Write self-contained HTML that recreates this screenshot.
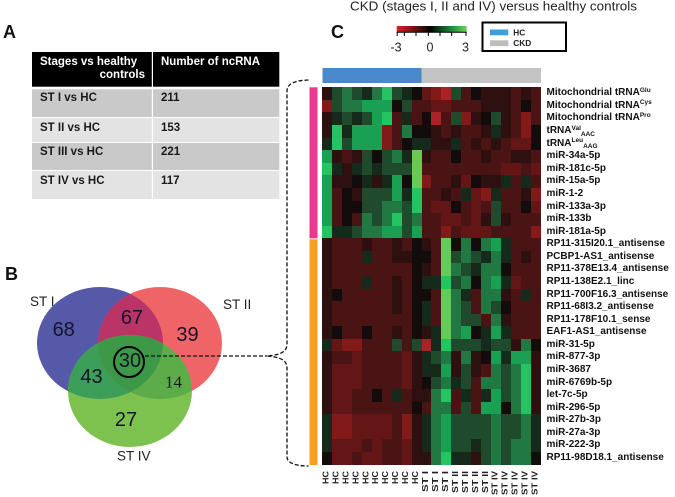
<!DOCTYPE html>
<html><head><meta charset="utf-8">
<style>
html,body{margin:0;padding:0;background:#fff;}
body{width:675px;height:497px;position:relative;overflow:hidden;font-family:"Liberation Sans",Arial,sans-serif;}
svg{position:absolute;left:0;top:0;}
#hm{position:absolute;left:322px;top:87.3px;width:219px;height:377.7px;border-collapse:collapse;border-spacing:0;table-layout:fixed;}
#hm td{padding:0;border:0;height:12.59px;}
.K{background:#120c0c}.a{background:#2e1010}.b{background:#4a1414}.c{background:#641616}.d{background:#821a1a}.e{background:#aa2226}
.x{background:#152a1a}.y{background:#1f4a2b}.z{background:#217842}.G{background:#19a052}.H{background:#24c462}.L{background:#66ca56}
#lab{position:absolute;left:546.5px;top:87.3px;font-weight:bold;font-size:10px;color:#111;white-space:nowrap;}
#lab div{height:12.59px;line-height:12.59px;}
.sp{font-size:6.5px;position:relative;top:-3.5px;}
.sb{font-size:6.5px;position:relative;top:2.5px;}
.tb{position:absolute;font-weight:bold;font-size:11.5px;white-space:nowrap;}
</style></head>
<body>
<svg width="675" height="497" viewBox="0 0 675 497">
<defs>
<clipPath id="cb"><ellipse cx="100" cy="343" rx="63" ry="56"/></clipPath>
<clipPath id="cr"><ellipse cx="160" cy="343" rx="62" ry="56"/></clipPath>
<linearGradient id="sc" x1="0" x2="1" y1="0" y2="0">
<stop offset="0" stop-color="#e01c24"/><stop offset="0.2" stop-color="#8a1414"/><stop offset="0.4" stop-color="#2a0a0a"/><stop offset="0.48" stop-color="#000"/><stop offset="0.56" stop-color="#0a2a10"/><stop offset="0.78" stop-color="#1c8a38"/><stop offset="1" stop-color="#6fd05a"/>
</linearGradient>
</defs>
<!-- Title -->
<text x="350" y="10.5" font-size="13.3" fill="#222" textLength="287" lengthAdjust="spacingAndGlyphs">CKD (stages I, II and IV) versus healthy controls</text>
<!-- panel letters -->
<text x="3" y="38" font-size="18" font-weight="bold" fill="#111">A</text>
<text x="5" y="280" font-size="18" font-weight="bold" fill="#111">B</text>
<text x="331" y="38" font-size="18" font-weight="bold" fill="#111">C</text>
<!-- Table A -->
<rect x="32" y="52" width="247.3" height="34.7" fill="#000"/>
<rect x="32" y="89.3" width="247.3" height="27.7" fill="#c9c9c9"/>
<rect x="32" y="118" width="247.3" height="24" fill="#e3e3e3"/>
<rect x="32" y="143" width="247.3" height="27" fill="#c9c9c9"/>
<rect x="32" y="171" width="247.3" height="28" fill="#e3e3e3"/>
<rect x="151.8" y="52" width="1.2" height="147" fill="#fff"/>
<!-- color scale -->
<rect x="396.7" y="26" width="70" height="6.3" fill="url(#sc)"/>
<line x1="396.7" y1="32.3" x2="466.7" y2="32.3" stroke="#000" stroke-width="1"/>
<g stroke="#000" stroke-width="1">
<line x1="397.2" y1="32" x2="397.2" y2="36"/><line x1="404.3" y1="32" x2="404.3" y2="36"/><line x1="416" y1="32" x2="416" y2="36"/><line x1="428.3" y1="32" x2="428.3" y2="36"/><line x1="440" y1="32" x2="440" y2="36"/><line x1="451.7" y1="32" x2="451.7" y2="36"/><line x1="466" y1="32" x2="466" y2="36"/>
</g>
<g font-size="12.5" fill="#222" text-anchor="middle">
<text x="396" y="51.7">-3</text><text x="430" y="51.7">0</text><text x="465.5" y="51.7">3</text>
</g>
<!-- legend -->
<rect x="482.5" y="22.5" width="83.5" height="28.5" fill="#fff" stroke="#000" stroke-width="2"/>
<rect x="490" y="29.5" width="18.3" height="5.8" fill="#3aa0e0"/>
<rect x="490" y="40.3" width="18.3" height="5.8" fill="#bdbdbd"/>
<text x="513.3" y="35.5" font-size="8.3" font-weight="bold" fill="#222">HC</text>
<text x="513.3" y="46.2" font-size="8.3" font-weight="bold" fill="#222">CKD</text>
<!-- top bar -->
<rect x="322.5" y="68" width="99.2" height="15" fill="#4a88cc"/>
<rect x="421.5" y="68" width="119.5" height="15" fill="#c3c3c3"/>
<!-- side bars -->
<rect x="309.5" y="87.3" width="8" height="151" fill="#e8388f"/>
<rect x="309.5" y="239.3" width="8" height="225.7" fill="#f8a020"/>
<!-- Venn -->
<ellipse cx="100" cy="343" rx="63" ry="56" fill="#5658a8"/>
<ellipse cx="160" cy="343" rx="62" ry="56" fill="#ef6466"/>
<ellipse cx="160" cy="343" rx="62" ry="56" fill="#bb3468" clip-path="url(#cb)"/>
<ellipse cx="130" cy="391" rx="62" ry="56" fill="#7dc24e"/>
<ellipse cx="130" cy="391" rx="62" ry="56" fill="#3c9e58" clip-path="url(#cb)"/>
<ellipse cx="130" cy="391" rx="62" ry="56" fill="#5cac4a" clip-path="url(#cr)"/>
<g clip-path="url(#cr)"><ellipse cx="130" cy="391" rx="62" ry="56" fill="#3d9848" clip-path="url(#cb)"/></g>
<g font-size="20" fill="#15152a" text-anchor="middle">
<text x="63.7" y="336.2">68</text>
<text x="132" y="324.2">67</text>
<text x="187.5" y="341.2">39</text>
<text x="130" y="367.2">30</text>
<text x="91.5" y="383.2">43</text>
<text x="126" y="426.2">27</text>
</g>
<text x="173.5" y="387.3" font-size="17" fill="#15152a" text-anchor="middle" font-family="Liberation Serif, serif">14</text>
<circle cx="129" cy="362" r="15" fill="none" stroke="#000" stroke-width="2"/>
<g font-size="13.5" fill="#222">
<text x="30" y="306">ST I</text>
<text x="223" y="309">ST II</text>
<text x="117" y="460.5">ST IV</text>
</g>
<!-- dashed bracket -->
<path d="M308.5,80 C296,80.5 287,83 287,91 L287,344 C287,352 280,355 267,356 C280,357 287,360 287,368 L287,457 C287,463 296,466 308.5,466" fill="none" stroke="#111" stroke-width="1.3" stroke-dasharray="4 2"/>
<line x1="145" y1="356" x2="267" y2="356" stroke="#111" stroke-width="1.3" stroke-dasharray="4 2"/>
<!-- bottom labels -->
<g font-size="8" font-weight="bold" fill="#222" text-anchor="end">
<text transform="translate(328.5,471) rotate(-90)" textLength="13" lengthAdjust="spacingAndGlyphs">HC</text>
<text transform="translate(338.4,471) rotate(-90)" textLength="13" lengthAdjust="spacingAndGlyphs">HC</text>
<text transform="translate(348.4,471) rotate(-90)" textLength="13" lengthAdjust="spacingAndGlyphs">HC</text>
<text transform="translate(358.3,471) rotate(-90)" textLength="13" lengthAdjust="spacingAndGlyphs">HC</text>
<text transform="translate(368.3,471) rotate(-90)" textLength="13" lengthAdjust="spacingAndGlyphs">HC</text>
<text transform="translate(378.2,471) rotate(-90)" textLength="13" lengthAdjust="spacingAndGlyphs">HC</text>
<text transform="translate(388.2,471) rotate(-90)" textLength="13" lengthAdjust="spacingAndGlyphs">HC</text>
<text transform="translate(398.2,471) rotate(-90)" textLength="13" lengthAdjust="spacingAndGlyphs">HC</text>
<text transform="translate(408.1,471) rotate(-90)" textLength="13" lengthAdjust="spacingAndGlyphs">HC</text>
<text transform="translate(418.1,471) rotate(-90)" textLength="13" lengthAdjust="spacingAndGlyphs">HC</text>
<text transform="translate(428,471) rotate(-90)" textLength="21" lengthAdjust="spacingAndGlyphs">ST I</text>
<text transform="translate(438,471) rotate(-90)" textLength="21" lengthAdjust="spacingAndGlyphs">ST I</text>
<text transform="translate(447.9,471) rotate(-90)" textLength="21" lengthAdjust="spacingAndGlyphs">ST I</text>
<text transform="translate(457.9,471) rotate(-90)" textLength="22" lengthAdjust="spacingAndGlyphs">ST II</text>
<text transform="translate(467.8,471) rotate(-90)" textLength="22" lengthAdjust="spacingAndGlyphs">ST II</text>
<text transform="translate(477.8,471) rotate(-90)" textLength="22" lengthAdjust="spacingAndGlyphs">ST II</text>
<text transform="translate(487.8,471) rotate(-90)" textLength="22" lengthAdjust="spacingAndGlyphs">ST II</text>
<text transform="translate(497.7,471) rotate(-90)" textLength="24" lengthAdjust="spacingAndGlyphs">ST IV</text>
<text transform="translate(507.7,471) rotate(-90)" textLength="24" lengthAdjust="spacingAndGlyphs">ST IV</text>
<text transform="translate(517.6,471) rotate(-90)" textLength="24" lengthAdjust="spacingAndGlyphs">ST IV</text>
<text transform="translate(527.6,471) rotate(-90)" textLength="24" lengthAdjust="spacingAndGlyphs">ST IV</text>
<text transform="translate(537.5,471) rotate(-90)" textLength="24" lengthAdjust="spacingAndGlyphs">ST IV</text>
</g>
</svg>

<!-- table A text -->
<div class="tb" style="left:40px;top:55.5px;color:#fff;">Stages vs healthy</div>
<div class="tb" style="left:90px;top:69px;width:55px;text-align:right;color:#fff;">controls</div>
<div class="tb" style="left:161px;top:55.5px;color:#fff;">Number of ncRNA</div>
<div class="tb" style="left:40px;top:92px;color:#1a1a1a;">ST I vs HC</div>
<div class="tb" style="left:161px;top:92px;color:#1a1a1a;">211</div>
<div class="tb" style="left:40px;top:122px;color:#1a1a1a;">ST II vs HC</div>
<div class="tb" style="left:161px;top:122px;color:#1a1a1a;">153</div>
<div class="tb" style="left:40px;top:146px;color:#1a1a1a;">ST III vs HC</div>
<div class="tb" style="left:161px;top:146px;color:#1a1a1a;">221</div>
<div class="tb" style="left:40px;top:175px;color:#1a1a1a;">ST IV vs HC</div>
<div class="tb" style="left:161px;top:175px;color:#1a1a1a;">117</div>

<table id="hm">
<tr><td class=a><td class=y><td class=z><td class=y><td class=x><td class=z><td class=H><td class=y><td class=x><td class=K><td class=c><td class=d><td class=e><td class=y><td class=b><td class=K><td class=a><td class=a><td class=a><td class=b><td class=a><td class=b>
<tr><td class=d><td class=y><td class=z><td class=z><td class=G><td class=G><td class=G><td class=K><td class=y><td class=b><td class=b><td class=c><td class=c><td class=b><td class=b><td class=b><td class=a><td class=a><td class=a><td class=b><td class=K><td class=b>
<tr><td class=a><td class=x><td class=y><td class=x><td class=y><td class=G><td class=H><td class=b><td class=x><td class=b><td class=K><td class=e><td class=b><td class=y><td class=d><td class=a><td class=K><td class=y><td class=a><td class=b><td class=d><td class=b>
<tr><td class=a><td class=H><td class=x><td class=G><td class=G><td class=G><td class=d><td class=b><td class=z><td class=K><td class=K><td class=a><td class=b><td class=a><td class=b><td class=b><td class=a><td class=x><td class=a><td class=b><td class=d><td class=K>
<tr><td class=x><td class=H><td class=y><td class=G><td class=G><td class=G><td class=d><td class=b><td class=K><td class=x><td class=x><td class=a><td class=a><td class=x><td class=b><td class=a><td class=b><td class=a><td class=b><td class=c><td class=c><td class=K>
<tr><td class=G><td class=a><td class=b><td class=a><td class=y><td class=K><td class=y><td class=z><td class=x><td class=L><td class=a><td class=b><td class=b><td class=K><td class=b><td class=b><td class=a><td class=b><td class=b><td class=a><td class=a><td class=b>
<tr><td class=H><td class=x><td class=a><td class=x><td class=y><td class=x><td class=y><td class=y><td class=y><td class=L><td class=b><td class=b><td class=b><td class=b><td class=b><td class=b><td class=b><td class=b><td class=c><td class=c><td class=b><td class=c>
<tr><td class=G><td class=a><td class=a><td class=K><td class=x><td class=a><td class=x><td class=G><td class=K><td class=L><td class=d><td class=b><td class=b><td class=a><td class=c><td class=K><td class=a><td class=a><td class=x><td class=b><td class=x><td class=b>
<tr><td class=G><td class=b><td class=K><td class=a><td class=y><td class=y><td class=y><td class=G><td class=x><td class=H><td class=b><td class=b><td class=a><td class=b><td class=x><td class=c><td class=d><td class=x><td class=b><td class=b><td class=a><td class=d>
<tr><td class=G><td class=b><td class=K><td class=K><td class=y><td class=y><td class=z><td class=z><td class=y><td class=H><td class=b><td class=c><td class=c><td class=K><td class=b><td class=c><td class=b><td class=y><td class=b><td class=b><td class=K><td class=c>
<tr><td class=G><td class=b><td class=K><td class=b><td class=z><td class=y><td class=z><td class=H><td class=y><td class=z><td class=b><td class=b><td class=c><td class=c><td class=b><td class=c><td class=a><td class=y><td class=a><td class=b><td class=b><td class=b>
<tr><td class=H><td class=x><td class=x><td class=y><td class=z><td class=z><td class=G><td class=G><td class=y><td class=G><td class=b><td class=b><td class=d><td class=b><td class=c><td class=c><td class=c><td class=b><td class=b><td class=b><td class=b><td class=d>
<tr><td class=a><td class=b><td class=b><td class=b><td class=a><td class=b><td class=b><td class=a><td class=b><td class=K><td class=a><td class=b><td class=L><td class=K><td class=z><td class=K><td class=z><td class=G><td class=x><td class=b><td class=b><td class=b>
<tr><td class=a><td class=b><td class=b><td class=b><td class=x><td class=b><td class=b><td class=a><td class=a><td class=K><td class=K><td class=b><td class=L><td class=y><td class=z><td class=y><td class=x><td class=z><td class=x><td class=b><td class=a><td class=b>
<tr><td class=a><td class=b><td class=b><td class=b><td class=b><td class=b><td class=b><td class=b><td class=b><td class=K><td class=a><td class=b><td class=L><td class=z><td class=y><td class=x><td class=z><td class=z><td class=K><td class=b><td class=b><td class=b>
<tr><td class=a><td class=b><td class=b><td class=b><td class=x><td class=b><td class=b><td class=a><td class=b><td class=K><td class=x><td class=x><td class=H><td class=y><td class=z><td class=K><td class=z><td class=G><td class=x><td class=c><td class=b><td class=b>
<tr><td class=a><td class=K><td class=b><td class=b><td class=b><td class=b><td class=b><td class=a><td class=b><td class=K><td class=K><td class=b><td class=L><td class=z><td class=x><td class=b><td class=z><td class=z><td class=a><td class=b><td class=x><td class=b>
<tr><td class=a><td class=b><td class=b><td class=b><td class=b><td class=b><td class=b><td class=a><td class=b><td class=K><td class=x><td class=b><td class=L><td class=z><td class=y><td class=b><td class=z><td class=y><td class=K><td class=b><td class=b><td class=b>
<tr><td class=a><td class=b><td class=b><td class=b><td class=b><td class=b><td class=b><td class=b><td class=b><td class=K><td class=x><td class=b><td class=L><td class=z><td class=y><td class=y><td class=b><td class=z><td class=a><td class=b><td class=b><td class=b>
<tr><td class=a><td class=K><td class=b><td class=b><td class=K><td class=b><td class=b><td class=a><td class=b><td class=K><td class=a><td class=x><td class=L><td class=z><td class=G><td class=K><td class=x><td class=G><td class=x><td class=b><td class=b><td class=b>
<tr><td class=x><td class=c><td class=d><td class=d><td class=b><td class=b><td class=b><td class=y><td class=b><td class=y><td class=e><td class=x><td class=H><td class=y><td class=y><td class=y><td class=x><td class=y><td class=y><td class=a><td class=z><td class=K>
<tr><td class=a><td class=b><td class=b><td class=c><td class=b><td class=b><td class=b><td class=b><td class=c><td class=a><td class=x><td class=y><td class=z><td class=a><td class=z><td class=a><td class=K><td class=G><td class=x><td class=G><td class=G><td class=a>
<tr><td class=a><td class=c><td class=c><td class=c><td class=b><td class=b><td class=b><td class=b><td class=c><td class=a><td class=x><td class=x><td class=G><td class=a><td class=y><td class=a><td class=b><td class=z><td class=y><td class=z><td class=H><td class=a>
<tr><td class=a><td class=c><td class=c><td class=c><td class=b><td class=b><td class=b><td class=b><td class=c><td class=a><td class=K><td class=y><td class=z><td class=x><td class=y><td class=b><td class=z><td class=z><td class=y><td class=z><td class=H><td class=a>
<tr><td class=a><td class=c><td class=c><td class=b><td class=b><td class=K><td class=b><td class=x><td class=b><td class=a><td class=a><td class=z><td class=H><td class=b><td class=x><td class=b><td class=x><td class=G><td class=y><td class=z><td class=H><td class=a>
<tr><td class=a><td class=c><td class=c><td class=b><td class=b><td class=b><td class=b><td class=b><td class=b><td class=K><td class=b><td class=z><td class=z><td class=b><td class=y><td class=b><td class=G><td class=G><td class=K><td class=z><td class=H><td class=a>
<tr><td class=x><td class=d><td class=d><td class=c><td class=c><td class=c><td class=c><td class=b><td class=d><td class=a><td class=x><td class=z><td class=G><td class=y><td class=y><td class=y><td class=y><td class=z><td class=y><td class=y><td class=z><td class=x>
<tr><td class=x><td class=d><td class=d><td class=c><td class=c><td class=c><td class=c><td class=b><td class=d><td class=a><td class=x><td class=z><td class=G><td class=y><td class=y><td class=y><td class=y><td class=z><td class=y><td class=y><td class=z><td class=x>
<tr><td class=x><td class=c><td class=c><td class=c><td class=b><td class=c><td class=b><td class=b><td class=c><td class=a><td class=x><td class=z><td class=G><td class=y><td class=y><td class=x><td class=y><td class=z><td class=y><td class=z><td class=z><td class=x>
<tr><td class=K><td class=c><td class=c><td class=b><td class=c><td class=c><td class=b><td class=b><td class=c><td class=a><td class=a><td class=z><td class=H><td class=x><td class=x><td class=a><td class=y><td class=z><td class=y><td class=z><td class=z><td class=K>
</table>

<div id="lab">
<div>Mitochondrial tRNA<span class="sp">Glu</span></div>
<div>Mitochondrial tRNA<span class="sp">Cys</span></div>
<div>Mitochondrial tRNA<span class="sp">Pro</span></div>
<div>tRNA<span class="sp">Val</span><span class="sb">AAC</span></div>
<div>tRNA<span class="sp">Leu</span><span class="sb">AAG</span></div>
<div>miR-34a-5p</div>
<div>miR-181c-5p</div>
<div>miR-15a-5p</div>
<div>miR-1-2</div>
<div>miR-133a-3p</div>
<div>miR-133b</div>
<div>miR-181a-5p</div>
<div>RP11-315I20.1_antisense</div>
<div>PCBP1-AS1_antisense</div>
<div>RP11-378E13.4_antisense</div>
<div>RP11-138E2.1_linc</div>
<div>RP11-700F16.3_antisense</div>
<div>RP11-68I3.2_antisense</div>
<div>RP11-178F10.1_sense</div>
<div>EAF1-AS1_antisense</div>
<div>miR-31-5p</div>
<div>miR-877-3p</div>
<div>miR-3687</div>
<div>miR-6769b-5p</div>
<div>let-7c-5p</div>
<div>miR-296-5p</div>
<div>miR-27b-3p</div>
<div>miR-27a-3p</div>
<div>miR-222-3p</div>
<div>RP11-98D18.1_antisense</div>
</div>
</body></html>
